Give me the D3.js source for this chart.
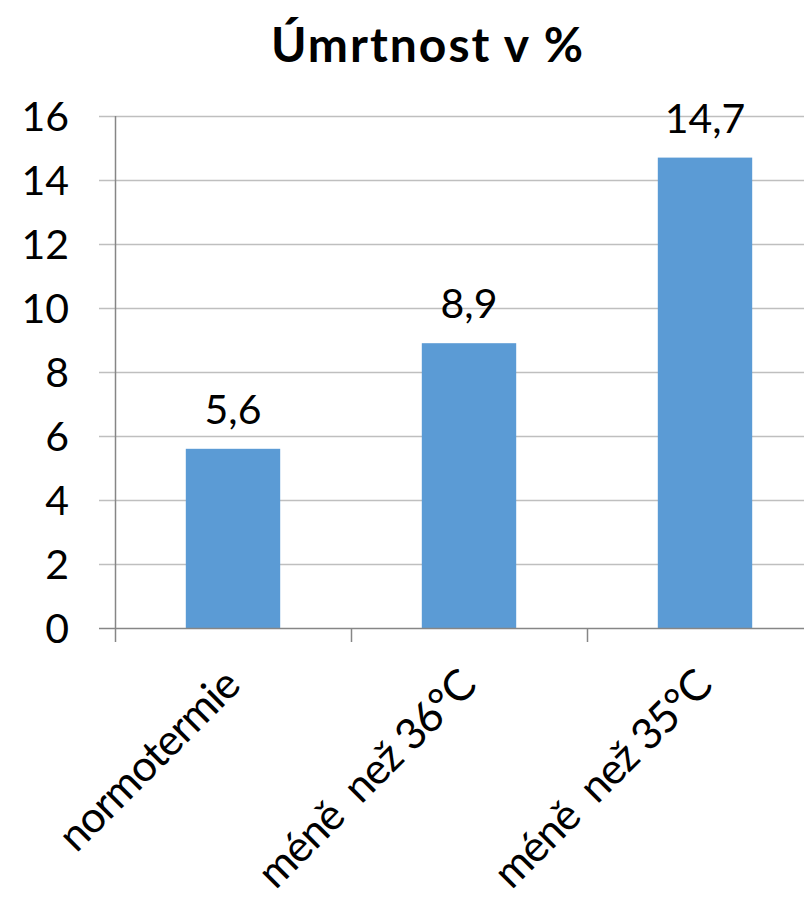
<!DOCTYPE html>
<html>
<head>
<meta charset="utf-8">
<script src="https://cdn.jsdelivr.net/npm/d3@7/dist/d3.min.js"></script>
<style>
  html, body { margin: 0; padding: 0; background: #fff; }
  svg { display: block; }
  text { font-family: Lato, "Open Sans", sans-serif; fill: #000; }
</style>
</head>
<body>
<script>
// Mortality by body temperature group
const categories = ["normotermie", "méně  než 36°C", "méně  než 35°C"];
const values = [5.6, 8.9, 14.7];
const valueLabels = ["5,6", "8,9", "14,7"];
const yTicks = [0, 2, 4, 6, 8, 10, 12, 14, 16];
const title = "Úmrtnost v %";

const W = 804, H = 904;
const svg = d3.select("body").append("svg").attr("width", W).attr("height", H);

const x = d3.scaleBand().domain(categories).range([115, 823])
  .paddingInner(0.6).paddingOuter(0.3);
const y = d3.scaleLinear().domain([0, 16]).range([628, 116]);

const gridColor = "#bfbfbf", axisColor = "#868686";

// horizontal gridlines (extend left as outside tick marks)
svg.append("g").selectAll("line").data(yTicks.filter(d => d > 0)).join("line")
  .attr("x1", 99).attr("x2", W)
  .attr("y1", d => Math.round(y(d)) + 0.5).attr("y2", d => Math.round(y(d)) + 0.5)
  .attr("stroke", gridColor).attr("stroke-width", 1.5);

// y axis line
svg.append("line")
  .attr("x1", 115.5).attr("x2", 115.5).attr("y1", y(16)).attr("y2", y(0))
  .attr("stroke", axisColor).attr("stroke-width", 1.5);

// y tick labels
svg.append("g").selectAll("text").data(yTicks).join("text")
  .attr("x", 69).attr("y", d => y(d))
  .attr("dy", "0.36em")
  .attr("text-anchor", "end")
  .style("font-size", "41px")
  .text(d => d);

// bars
svg.append("g").selectAll("rect").data(values).join("rect")
  .attr("x", (d, i) => x(categories[i]))
  .attr("width", x.bandwidth())
  .attr("y", d => y(d))
  .attr("height", d => y(0) - y(d))
  .attr("fill", "#5b9bd5");

// value labels
svg.append("g").selectAll("text").data(values).join("text")
  .attr("x", (d, i) => x(categories[i]) + x.bandwidth() / 2)
  .attr("y", d => y(d) - 25)
  .attr("text-anchor", "middle")
  .style("font-size", "41px")
  .text((d, i) => valueLabels[i]);

// x axis baseline and category boundary ticks
svg.append("line")
  .attr("x1", 99).attr("x2", W).attr("y1", y(0) + 0.5).attr("y2", y(0) + 0.5)
  .attr("stroke", axisColor).attr("stroke-width", 1.5);
const bounds = categories.map(c => x(c) - x.step() * x.paddingOuter());
svg.append("g").selectAll("line").data(bounds).join("line")
  .attr("x1", d => Math.round(d) + 0.5).attr("x2", d => Math.round(d) + 0.5)
  .attr("y1", y(0)).attr("y2", y(0) + 14)
  .attr("stroke", axisColor).attr("stroke-width", 1.5);

// rotated category labels (double space kept as written)
svg.append("g").selectAll("text").data(categories).join("text")
  .attr("transform", c => `translate(${x(c) + x.bandwidth() / 2 + 9},${y(0) + 60}) rotate(-45)`)
  .attr("text-anchor", "end")
  .style("font-size", "43px")
  .style("letter-spacing", "-1px")
  .style("white-space", "pre")
  .text(c => c);

// title
svg.append("text")
  .attr("x", 428).attr("y", 62)
  .attr("text-anchor", "middle")
  .style("font-size", "48px").style("font-weight", "bold")
  .style("letter-spacing", "2px")
  .text(title);
</script>
</body>
</html>
